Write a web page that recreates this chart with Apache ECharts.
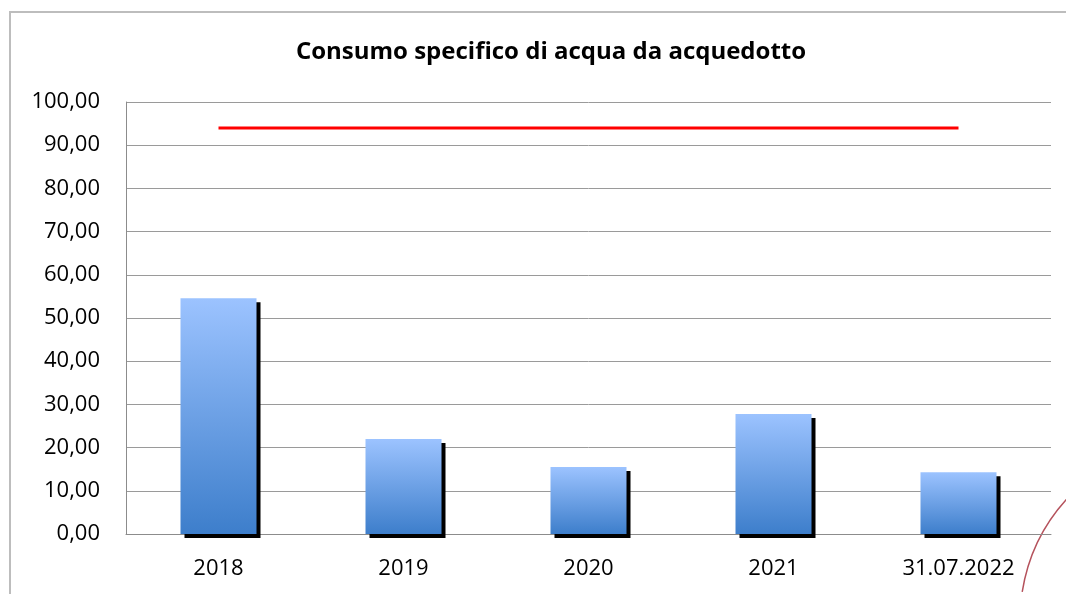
<!DOCTYPE html>
<html>
<head>
<meta charset="utf-8">
<script src="https://cdn.jsdelivr.net/npm/echarts@6/dist/echarts.min.js"></script>
<style>
  html, body { margin: 0; padding: 0; background: #fff; }
  #chart { width: 1066px; height: 594px; }
</style>
</head>
<body>
<div id="chart"></div>
<script>
const categories = ['2018', '2019', '2020', '2021', '31.07.2022'];
const consumo = [54.6, 22.0, 15.5, 27.8, 14.3];
const limite = [94, 94, 94, 94, 94];

const fmt = (v) => v.toFixed(2).replace('.', ',');

const chart = echarts.init(document.getElementById('chart'));

const option = {
  backgroundColor: '#fff',
  animation: false,
  textStyle: { fontFamily: 'Open Sans', color: '#000' },
  title: {
    text: 'Consumo specifico di acqua da acquedotto',
    left: 546,
    textAlign: 'center',
    top: 35,
    textStyle: { fontSize: 24, fontWeight: 'bold', color: '#000', fontFamily: 'Open Sans' },
  },
  grid: { left: 126, right: 15, top: 102, bottom: 60 },
  graphic: [{
    type: 'rect',
    shape: { x: 10, y: 12, width: 1070, height: 600 },
    style: { fill: 'none', stroke: '#bdbdbd', lineWidth: 2 },
    silent: true,
  }, {
    type: 'arc',
    shape: { cx: 1200, cy: 620, r: 180, startAngle: Math.PI * 1.05, endAngle: Math.PI * 1.25 },
    style: { fill: 'none', stroke: '#b5525c', lineWidth: 1.5 },
    silent: true,
  }],
  xAxis: {
    type: 'category',
    data: categories,
    axisTick: { show: false },
    axisLine: { lineStyle: { color: '#8c8c8c', width: 1 } },
    axisLabel: { fontSize: 22, color: '#000', margin: 24, fontFamily: 'Open Sans' },
  },
  yAxis: {
    type: 'value',
    min: 0,
    max: 100,
    interval: 10,
    axisLine: { show: true, lineStyle: { color: '#8c8c8c' } },
    axisTick: { show: false },
    splitLine: { lineStyle: { color: '#9a9a9a' } },
    axisLabel: { fontSize: 22, color: '#000', margin: 26, formatter: fmt, fontFamily: 'Open Sans' },
  },
  series: [{
    type: 'bar',
    data: consumo,
    barWidth: 76,
    itemStyle: {
      color: new echarts.graphic.LinearGradient(0, 0, 0, 1, [
        { offset: 0, color: '#9cc3ff' },
        { offset: 1, color: '#3d7ecb' },
      ]),
      shadowColor: '#000',
      shadowOffsetX: 4,
      shadowOffsetY: 4,
      shadowBlur: 0,
    },
  }, {
    type: 'line',
    data: limite,
    symbol: 'none',
    lineStyle: { color: '#ff0000', width: 3 },
  }],
};

chart.setOption(option);
</script>
</body>
</html>
